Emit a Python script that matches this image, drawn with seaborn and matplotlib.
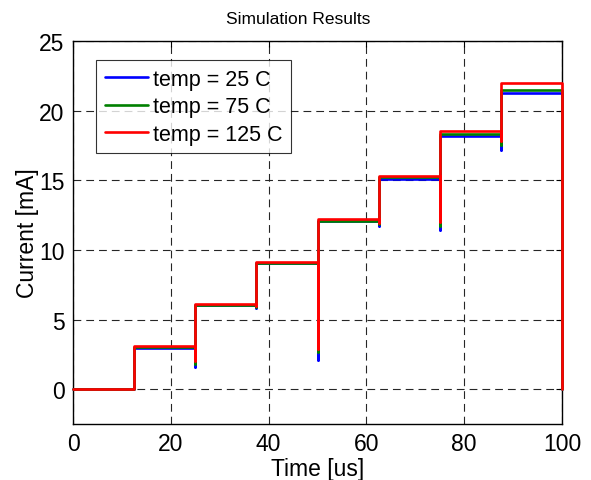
import numpy as np
import pandas as pd
import matplotlib
matplotlib.use("Agg")
import matplotlib.pyplot as plt
import seaborn as sns

# ---- data ----
step_times = [0, 12.5, 25, 37.5, 50, 62.5, 75, 87.5, 100]
series_names = ["temp = 25 C", "temp = 75 C", "temp = 125 C"]
levels_25 = [0.0, 2.95, 6.05, 9.05, 12.05, 15.1, 18.15, 21.25]
levels_75 = [0.0, 3.0, 6.05, 9.05, 12.1, 15.2, 18.35, 21.45]
levels_125 = [0.0, 3.1, 6.1, 9.15, 12.2, 15.3, 18.55, 21.95]
# transient dips at the steps (t = 12.5 ... 87.5)
dips_25 = [None, 1.6, 5.8, 2.1, 11.7, 11.4, 17.2]
dips_75 = [None, 1.8, 5.9, 2.7, 11.85, 11.7, 17.5]
dips_125 = [None, 2.0, 6.0, 2.9, 11.95, 12.0, 17.8]
end_value = 0.0
colors = ["#0000ff", "#008000", "#ff0000"]

sns.set_theme(style="white")
plt.rcParams["font.family"] = ["Liberation Sans", "DejaVu Sans"]
plt.rcParams["text.color"] = "black"
plt.rcParams["axes.labelcolor"] = "black"
plt.rcParams["xtick.color"] = "black"
plt.rcParams["ytick.color"] = "black"

rows = []
for name, lev, dip in zip(series_names, [levels_25, levels_75, levels_125],
                          [dips_25, dips_75, dips_125]):
    for i, v in enumerate(lev):
        t0, t1 = step_times[i], step_times[i + 1]
        if i > 0 and dip[i - 1] is not None:
            rows.append((name, t0, dip[i - 1]))
        rows.append((name, t0, v))
        rows.append((name, t1, v))
    rows.append((name, step_times[-1], end_value))
df = pd.DataFrame(rows, columns=["series", "time", "current"])

fig = plt.figure(figsize=(5.91, 4.81), dpi=100)
ax = fig.add_axes([73 / 591, 1 - 425 / 481, 489 / 591, 383 / 481])

sns.lineplot(data=df, x="time", y="current", hue="series", palette=colors,
             hue_order=series_names, sort=False, estimator=None,
             linewidth=1.9, ax=ax)
for ln in ax.get_lines():
    ln.set_zorder(3)
    ln.set_clip_on(False)

ax.set_xlim(0, 100)
ax.set_ylim(-2.5, 25)
ax.set_xticks([0, 20, 40, 60, 80, 100])
ax.set_yticks([0, 5, 10, 15, 20, 25])
ax.grid(True, color="0.15", linestyle=(0, (7, 4.5)), linewidth=0.8)
ax.set_axisbelow(True)
for s in ax.spines.values():
    s.set_color("black")
    s.set_linewidth(1.0)
ax.tick_params(direction="in", length=4, width=0.8, top=True, right=True,
               labelsize=16.5, colors="black", pad=6)
ax.set_xlabel("Time [us]", fontsize=16.5, labelpad=1, color="black")
ax.set_ylabel("Current [mA]", fontsize=16.5, labelpad=0, color="black")
ax.set_title("Simulation Results", fontsize=12.5, pad=13, x=0.46, color="black")

leg = ax.legend(loc="upper left", bbox_to_anchor=(0.047, 0.95), fontsize=15.5,
                frameon=True, fancybox=False, edgecolor="black",
                handlelength=2.0, handletextpad=0.25, borderpad=0.4,
                labelspacing=0.3, borderaxespad=0)
leg.get_frame().set_linewidth(0.8)
for t in leg.get_texts():
    t.set_color("black")
for h in leg.get_lines():
    h.set_linewidth(1.9)

fig.savefig("out.png", dpi=100)
